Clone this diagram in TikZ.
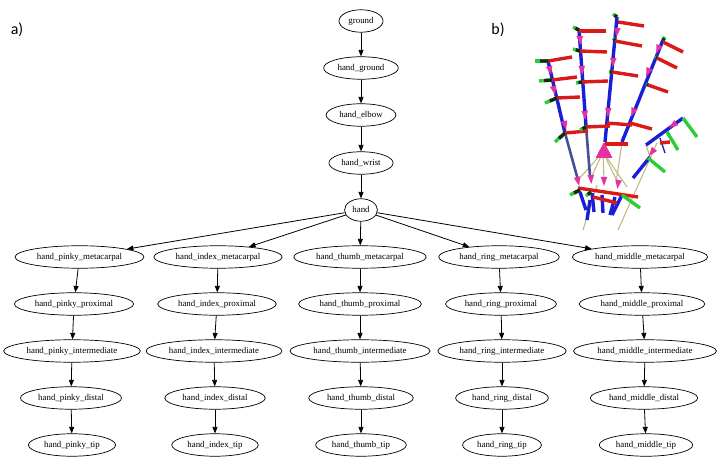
\documentclass[tikz,border=0pt]{standalone}
\usepackage{fontspec}
\setmainfont{Liberation Serif}
\newfontfamily\panelfont{Carlito}
\usetikzlibrary{arrows.meta,shapes.geometric,calc}

\definecolor{bone}{RGB}{25,30,215}
\definecolor{boneshade}{RGB}{70,80,150}
\definecolor{axisred}{RGB}{220,25,25}
\definecolor{axisgreen}{RGB}{45,205,55}
\definecolor{axisdark}{RGB}{20,40,20}
\definecolor{cone}{RGB}{230,50,160}
\definecolor{link}{RGB}{195,185,130}

\tikzset{
  frame/.style={shape=ellipse, draw=black, line width=0.7bp, inner xsep=3bp, inner ysep=3.8bp,
    text height=6.3bp, text depth=2bp, font=\fontsize{8.9}{10}\selectfont},
  arr/.style={-{Triangle[length=6.5bp,width=5bp]}, line width=0.8bp, draw=black},
  bonebar/.style={draw=bone, line width=3.4bp},
  shadebar/.style={draw=boneshade, line width=2.6bp},
  redbar/.style={draw=axisred, line width=3.4bp},
  greenbar/.style={draw=axisgreen, line width=3.4bp},
  linkbar/.style={draw=link, line width=1.1bp}
}
\newcommand{\jointcone}[3]{\fill[cone, shift={(#1,#2)}, rotate=#3] (5bp,0bp) -- (-4bp,3.3bp) -- (-4bp,-3.3bp) -- cycle;}

\begin{document}
\begin{tikzpicture}[x=1bp, y=-1bp]
\useasboundingbox (0,0) rectangle (722,464);
\node[font=\panelfont\fontsize{16}{18}\selectfont] (pa) at (17,30) {a)};
\node[font=\panelfont\fontsize{16}{18}\selectfont] (pb) at (498,30) {b)};
% tree of frames
\node[frame] (g) at (361,21) {ground};
\node[frame] (hg) at (361,68) {hand\_ground};
\node[frame] (he) at (361,115) {hand\_elbow};
\node[frame] (hw) at (361,163) {hand\_wrist};
\node[frame] (h) at (361,210) {hand};
\node[frame] (pm) at (79.5,257) {hand\_pinky\_metacarpal};
\node[frame] (pp) at (74,304) {hand\_pinky\_proximal};
\node[frame] (pi) at (72,351) {hand\_pinky\_intermediate};
\node[frame] (pd) at (71,398) {hand\_pinky\_distal};
\node[frame] (pt) at (72,445) {hand\_pinky\_tip};
\node[frame] (im) at (218,257) {hand\_index\_metacarpal};
\node[frame] (ip) at (217,304) {hand\_index\_proximal};
\node[frame] (ii) at (214,351) {hand\_index\_intermediate};
\node[frame] (id) at (215,398) {hand\_index\_distal};
\node[frame] (it) at (215,445) {hand\_index\_tip};
\node[frame] (tm) at (360,257) {hand\_thumb\_metacarpal};
\node[frame] (tp) at (360,304) {hand\_thumb\_proximal};
\node[frame] (ti) at (360,351) {hand\_thumb\_intermediate};
\node[frame] (td) at (361,398) {hand\_thumb\_distal};
\node[frame] (tt) at (361,445) {hand\_thumb\_tip};
\node[frame] (rm) at (499,257) {hand\_ring\_metacarpal};
\node[frame] (rp) at (501,304) {hand\_ring\_proximal};
\node[frame] (ri) at (502,351) {hand\_ring\_intermediate};
\node[frame] (rd) at (502,398) {hand\_ring\_distal};
\node[frame] (rt) at (502,445) {hand\_ring\_tip};
\node[frame] (mm) at (640,257) {hand\_middle\_metacarpal};
\node[frame] (mp) at (642,304) {hand\_middle\_proximal};
\node[frame] (mi) at (645,351) {hand\_middle\_intermediate};
\node[frame] (md) at (644,398) {hand\_middle\_distal};
\node[frame] (mt) at (646,445) {hand\_middle\_tip};
\path [arr] (g) edge (hg);
\path [arr] (hg) edge (he);
\path [arr] (he) edge (hw);
\path [arr] (hw) edge (h);
\path [arr] (h) edge (pm);
\path [arr] (h) edge (im);
\path [arr] (h) edge (tm);
\path [arr] (h) edge (rm);
\path [arr] (h) edge (mm);
\path [arr] (pm) edge (pp);
\path [arr] (pp) edge (pi);
\path [arr] (pi) edge (pd);
\path [arr] (pd) edge (pt);
\path [arr] (im) edge (ip);
\path [arr] (ip) edge (ii);
\path [arr] (ii) edge (id);
\path [arr] (id) edge (it);
\path [arr] (tm) edge (tp);
\path [arr] (tp) edge (ti);
\path [arr] (ti) edge (td);
\path [arr] (td) edge (tt);
\path [arr] (rm) edge (rp);
\path [arr] (rp) edge (ri);
\path [arr] (ri) edge (rd);
\path [arr] (rd) edge (rt);
\path [arr] (mm) edge (mp);
\path [arr] (mp) edge (mi);
\path [arr] (mi) edge (md);
\path [arr] (md) edge (mt);
% hand model, frames drawn as bars
\draw[linkbar] (583,230) -- (597,185);
\draw[linkbar] (618,230) -- (657,143);
\foreach \a/\b in {578/180, 591/178, 604/180, 618/183, 627/187}
  \draw[linkbar] (603,152) -- (\a,\b);
\draw[linkbar] (622,142) -- (616,183);
\draw[linkbar] (646,145) -- (650,157);
\draw[shadebar] (565,133) -- (578,180);
\draw[shadebar] (586,126) -- (590,176);
\draw[bonebar] (548,61) -- (565,133);
\draw[bonebar] (579,30) -- (586,126);
\draw[bonebar] (617,17) -- (605,142);
\draw[bonebar] (663,40) -- (622,142);
\draw[bonebar] (683,118) -- (646,145);
\draw[bonebar] (650,157) -- (633,178);
\draw[draw=bone, line width=1.4bp] (660,138) -- (665,153);
\foreach \a/\b/\c/\d in {580/192/586/210, 592/193/594/212, 602/195/603/213, 615/197/610/215, 622/195/612/215, 590/200/587/220}
  \draw[bonebar] (\a,\b) -- (\c,\d);
\foreach \a/\b/\c/\d in {548/61/572/57, 552/80/577/77, 557/98/580/97, 565/133/588/131,
    579/31/606/31, 580/51/607/52, 582/82/608/81, 586/127/610/126,
    618/22/644/26, 615/41/642/46, 612/72/638/76, 607/123/632/125,
    663/42/683/52, 657/58/677/68, 648/85/668/92, 630/123/652/129,
    605/144/628/144, 578/188/638/197, 593/197/617/203, 660/143/670/142}
  \draw[redbar] (\a,\b) -- (\c,\d);
\foreach \a/\b/\c/\d in {535/61/548/61, 539/81/552/80, 545/103/557/98, 555/142/565/133,
    573/27/579/30, 573/49/580/51, 576/83/582/82, 580/130/586/127,
    613/14/617/17, 613/38/615/40, 609/72/612/72,
    665/37/663/40, 655/57/657/58, 646/84/648/85, 570/195/580/190, 586/196/591/192}
  {\draw[greenbar] (\a,\b) -- (\c,\d);
   \draw[draw=axisdark, line width=3.4bp] ($(\a,\b)!0.4!(\c,\d)$) -- (\c,\d);}
\foreach \a/\b/\c/\d in {683/118/697/137, 667/132/678/150, 648/158/665/172, 622/195/640/208}
  \draw[greenbar] (\a,\b) -- (\c,\d);
\foreach \a/\b/\c in {550/70/-77, 554/90/-77, 565/125/-76, 578/181/-75,
    580/40/-86, 582/70/-86, 585/115/-86, 591/179/-87,
    617/32/-95, 613/62/-95, 608/112/-95, 604/181/-90,
    658/49/-112, 648/72/-112, 633/112/-112, 618/184/-100,
    673/125/-145, 652/152/-129}
  \jointcone{\a}{\b}{\c}
\fill[cone] (604,143) -- (596,158) -- (612,158) -- cycle;
\end{tikzpicture}
\end{document}
